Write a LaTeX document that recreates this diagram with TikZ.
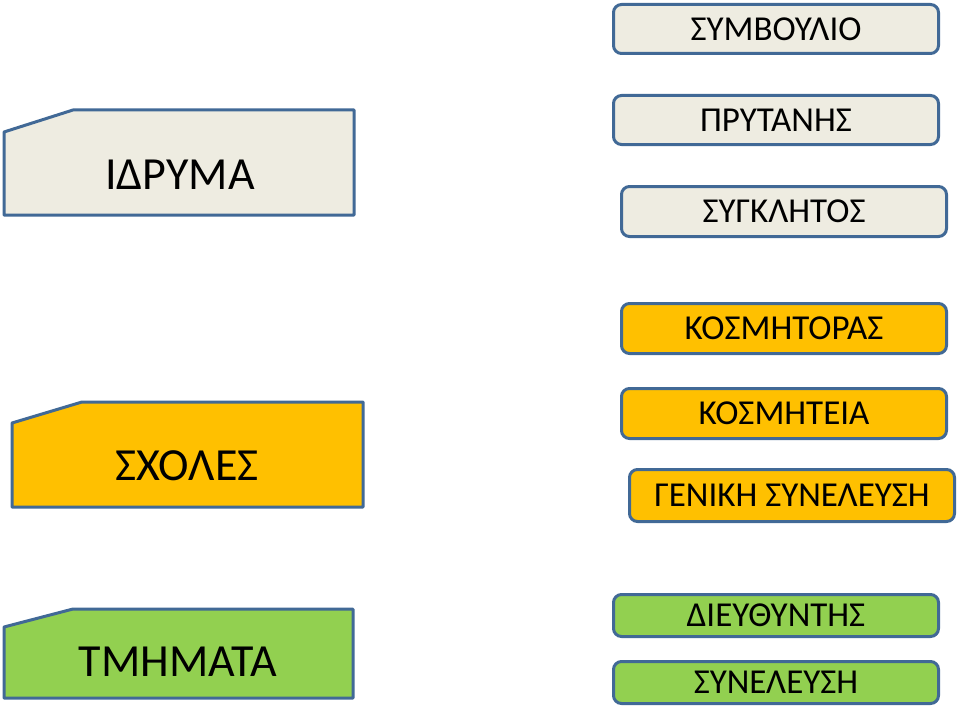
\documentclass[tikz,border=0pt]{standalone}
\usepackage{fontspec}
\setmainfont{Carlito}
\definecolor{bord}{RGB}{65,105,150}
\definecolor{greyf}{RGB}{238,236,225}
\definecolor{orangef}{RGB}{255,192,0}
\definecolor{greenf}{RGB}{146,208,80}
\begin{document}
\begin{tikzpicture}[x=1pt,y=-1pt,
  shp/.style={draw=bord,line width=3pt,line join=round},
  rbox/.style={draw=bord,line width=3pt,rounded corners=8pt,inner sep=0pt,anchor=north west,minimum width=325pt,font=\fontsize{35}{35}\selectfont},
  big/.style={font=\fontsize{46}{46}\selectfont}]
\useasboundingbox (0,0) rectangle (960,706);
% left pentagon-like shapes
\draw[shp,fill=greyf] (4,132) -- (73,110) -- (354,110) -- (354,215) -- (4,215) -- cycle;
\node[big] (idryma) at (180,175) {ΙΔΡΥΜΑ};
\draw[shp,fill=orangef] (12,423) -- (82,402) -- (363,402) -- (363,507) -- (12,507) -- cycle;
\node[big] (sxoles) at (187,466) {ΣΧΟΛΕΣ};
\draw[shp,fill=greenf] (4,627) -- (73,609) -- (353,609) -- (353,698) -- (4,698) -- cycle;
\node[big] (tmhmata) at (178,662) {ΤΜΗΜΑΤΑ};
% right boxes
\node[rbox,fill=greyf,minimum height=49pt] (symv) at (612,3) {ΣΥΜΒΟΥΛΙΟ};
\node[rbox,fill=greyf,minimum height=49pt] (pryt) at (612,94) {ΠΡΥΤΑΝΗΣ};
\node[rbox,fill=greyf,minimum height=50pt] (sygk) at (620,185) {ΣΥΓΚΛΗΤΟΣ};
\node[rbox,fill=orangef,minimum height=50pt] (kosm) at (620,302) {ΚΟΣΜΗΤΟΡΑΣ};
\node[rbox,fill=orangef,minimum height=50pt] (kosmt) at (620,387) {ΚΟΣΜΗΤΕΙΑ};
\node[rbox,fill=orangef,minimum height=52pt] (gen) at (628,468) {ΓΕΝΙΚΗ ΣΥΝΕΛΕΥΣΗ};
\node[rbox,fill=greenf,minimum height=42pt] (dieu) at (612,593) {ΔΙΕΥΘΥΝΤΗΣ};
\node[rbox,fill=greenf,minimum height=42pt] (syne) at (612,660) {ΣΥΝΕΛΕΥΣΗ};
\end{tikzpicture}
\end{document}
